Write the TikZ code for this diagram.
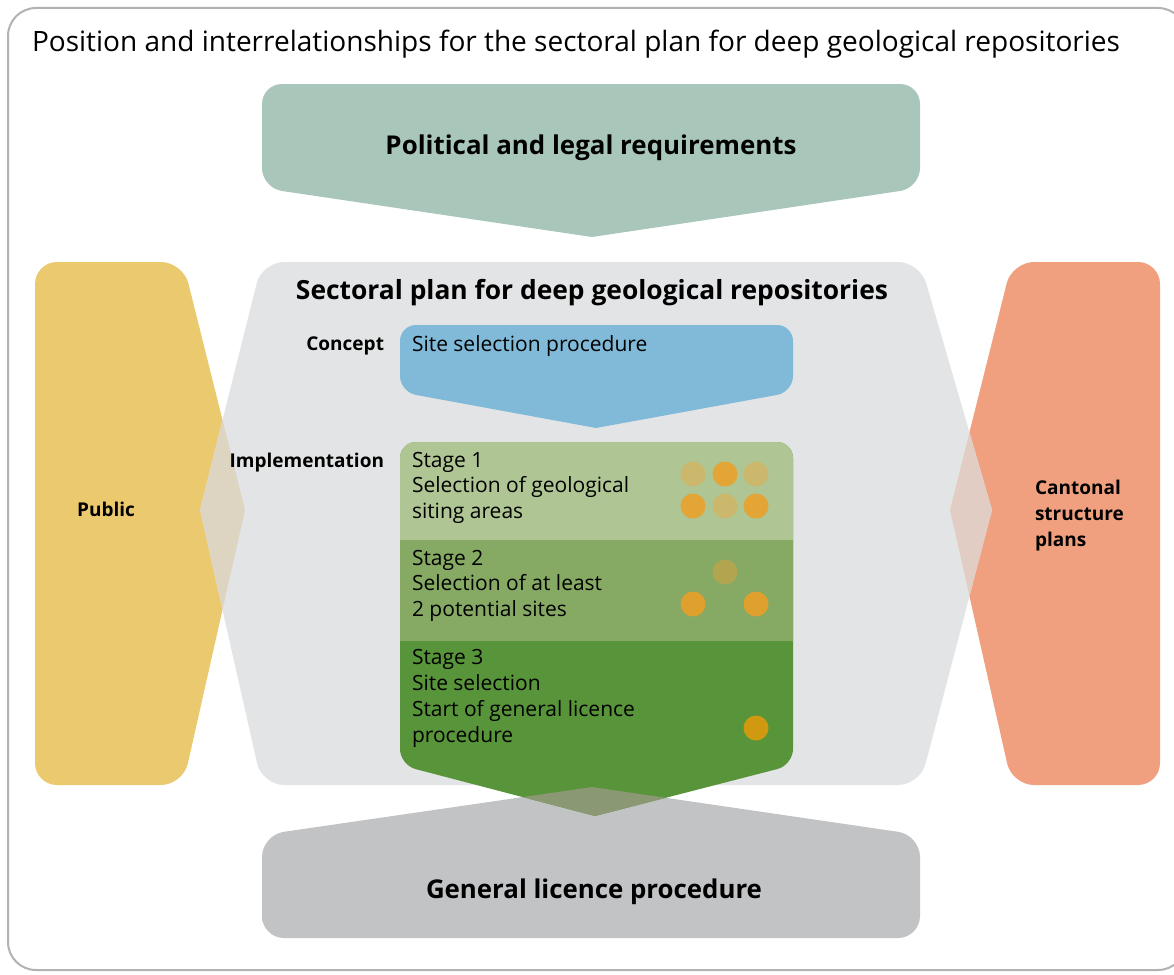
\documentclass[tikz,border=0pt]{standalone}
\usepackage{fontspec}
\usepackage{graphicx}
\setmainfont{Open Sans}
\definecolor{framec}{HTML}{B2B2B2}
\definecolor{polc}{HTML}{A9C6BA}
\definecolor{secc}{HTML}{E3E4E5}
\definecolor{pubc}{HTML}{EBC96F}
\definecolor{canc}{HTML}{F0A07E}
\definecolor{ovy}{HTML}{DDD5C1}
\definecolor{ovo}{HTML}{E1CDC3}
\definecolor{bluec}{HTML}{80BAD8}
\definecolor{stA}{HTML}{AFC594}
\definecolor{stB}{HTML}{86AA63}
\definecolor{stC}{HTML}{58943A}
\definecolor{licc}{HTML}{C2C3C5}
\definecolor{ovg}{HTML}{8A9874}
\definecolor{dotpale}{HTML}{CBB86C}
\definecolor{dotor}{HTML}{E3A536}
\definecolor{dotol}{HTML}{B1A64F}
\definecolor{dotorb}{HTML}{E0A02D}
\definecolor{dotdk}{HTML}{D1990F}
\newcommand\fitw[2]{\resizebox{#1}{!}{#2}}
\begin{document}
\begin{tikzpicture}[x=1pt,y=-1pt,
  lbl/.style={inner sep=0pt,outer sep=0pt},
  rg/.style={lbl,font=\fontsize{21}{26}\selectfont},
  sb/.style={lbl,font=\fontsize{19}{26}\selectfont\bfseries},
  dot/.style={circle,minimum size=25pt,inner sep=0pt}]
\def\polpath{(590,84) [rounded corners=20pt] -- (920,84) -- (920,188) [sharp corners] -- (592,237) [rounded corners=20pt] -- (262,188) -- (262,84) -- cycle}
\def\pubpath{(109,262) [rounded corners=22pt] -- (183,262) [sharp corners] -- (245,510) [rounded corners=22pt] -- (183,785) -- (35,785) -- (35,262) -- cycle}
\def\secpath{(590,262) [rounded corners=22pt] -- (920,262) [sharp corners] -- (992,510) [rounded corners=22pt] -- (920,785) -- (262,785) [sharp corners] -- (200,510) [rounded corners=22pt] -- (262,262) -- cycle}
\def\canpath{(1086,262) [rounded corners=22pt] -- (1160,262) -- (1160,785) -- (1012,785) [sharp corners] -- (950,510) [rounded corners=22pt] -- (1012,262) -- cycle}
\def\bluepath{(596,325) [rounded corners=16pt] -- (793,325) -- (793,392) [sharp corners] -- (596,428) [rounded corners=16pt] -- (400,392) -- (400,325) -- cycle}
\def\stpath{(596,442) [rounded corners=16pt] -- (793,442) -- (793,765) [sharp corners] -- (595,816) [rounded corners=16pt] -- (400,765) -- (400,442) -- cycle}
\def\licpath{(262,900) [rounded corners=22pt] -- (262,835) [sharp corners] -- (592,787) [rounded corners=22pt] -- (920,835) -- (920,938) -- (262,938) -- cycle}
\useasboundingbox (0,0) rectangle (1174,974);
\clip (0,0) rectangle (1174,974);
\fill[white] (0,0) rectangle (1174,974);
\draw[framec,line width=2pt,rounded corners=28pt] (8,8) rectangle (1186,970);
% shapes
\fill[polc] \polpath;
\fill[pubc] \pubpath;
\fill[canc] \canpath;
\fill[secc] \secpath;
\begin{scope}
  \clip \pubpath;
  \fill[ovy] \secpath;
\end{scope}
\begin{scope}
  \clip \canpath;
  \fill[ovo] \secpath;
\end{scope}
\fill[licc] \licpath;
\fill[bluec] \bluepath;
\fill[stC] \stpath;
\begin{scope}
  \clip \stpath;
  \fill[stA] (390,430) rectangle (800,540);
  \fill[stB] (390,540) rectangle (800,641);
  \fill[ovg] \licpath;
\end{scope}
% dots
\node[dot,fill=dotpale] (d1) at (693,474) {};
\node[dot,fill=dotor]   (d2) at (725,474) {};
\node[dot,fill=dotpale] (d3) at (756,474) {};
\node[dot,fill=dotor]   (d4) at (693,506) {};
\node[dot,fill=dotpale] (d5) at (725,506) {};
\node[dot,fill=dotor]   (d6) at (756,506) {};
\node[dot,fill=dotol]   (e1) at (725,572) {};
\node[dot,fill=dotorb]  (e2) at (693,604) {};
\node[dot,fill=dotorb]  (e3) at (756,604) {};
\node[dot,fill=dotdk]   (f1) at (756,728) {};
% texts
\node[lbl,anchor=base west] (title) at (32,52) {\fitw{1088pt}{\fontsize{24}{24}\selectfont Position and interrelationships for the sectoral plan for deep geological repositories}};
\node[lbl,anchor=base] (pol) at (591,154) {\fitw{411pt}{\fontsize{24}{24}\selectfont\bfseries Political and legal requirements}};
\node[lbl,anchor=base] (sec) at (592,299) {\fitw{592pt}{\fontsize{24}{24}\selectfont\bfseries Sectoral plan for deep geological repositories}};
\node[lbl,anchor=base] (gl) at (594,898) {\fitw{336pt}{\fontsize{24}{24}\selectfont\bfseries General licence procedure}};
\node[sb,anchor=base east] (concept) at (384,350) {Concept};
\node[sb,anchor=base east] (impl) at (384,467) {Implementation};
\node[rg,anchor=base west] (ssp) at (412,351) {Site selection procedure};
\node[rg,anchor=base west] (s1) at (412,467) {\vtop{\baselineskip=25.5pt\hbox{Stage 1}\hbox{Selection of geological}\hbox{siting areas}}};
\node[rg,anchor=base west] (s2) at (412,565) {\vtop{\baselineskip=25.5pt\hbox{Stage 2}\hbox{Selection of at least}\hbox{2 potential sites}}};
\node[rg,anchor=base west] (s3) at (412,664) {\vtop{\baselineskip=26pt\hbox{Stage 3}\hbox{Site selection}\hbox{Start of general licence}\hbox{procedure}}};
\node[sb,anchor=base] (public) at (106,516) {Public};
\node[sb,anchor=base west] (canton) at (1035,494) {\vtop{\baselineskip=26pt\hbox{Cantonal}\hbox{structure}\hbox{plans}}};
\end{tikzpicture}
\end{document}
